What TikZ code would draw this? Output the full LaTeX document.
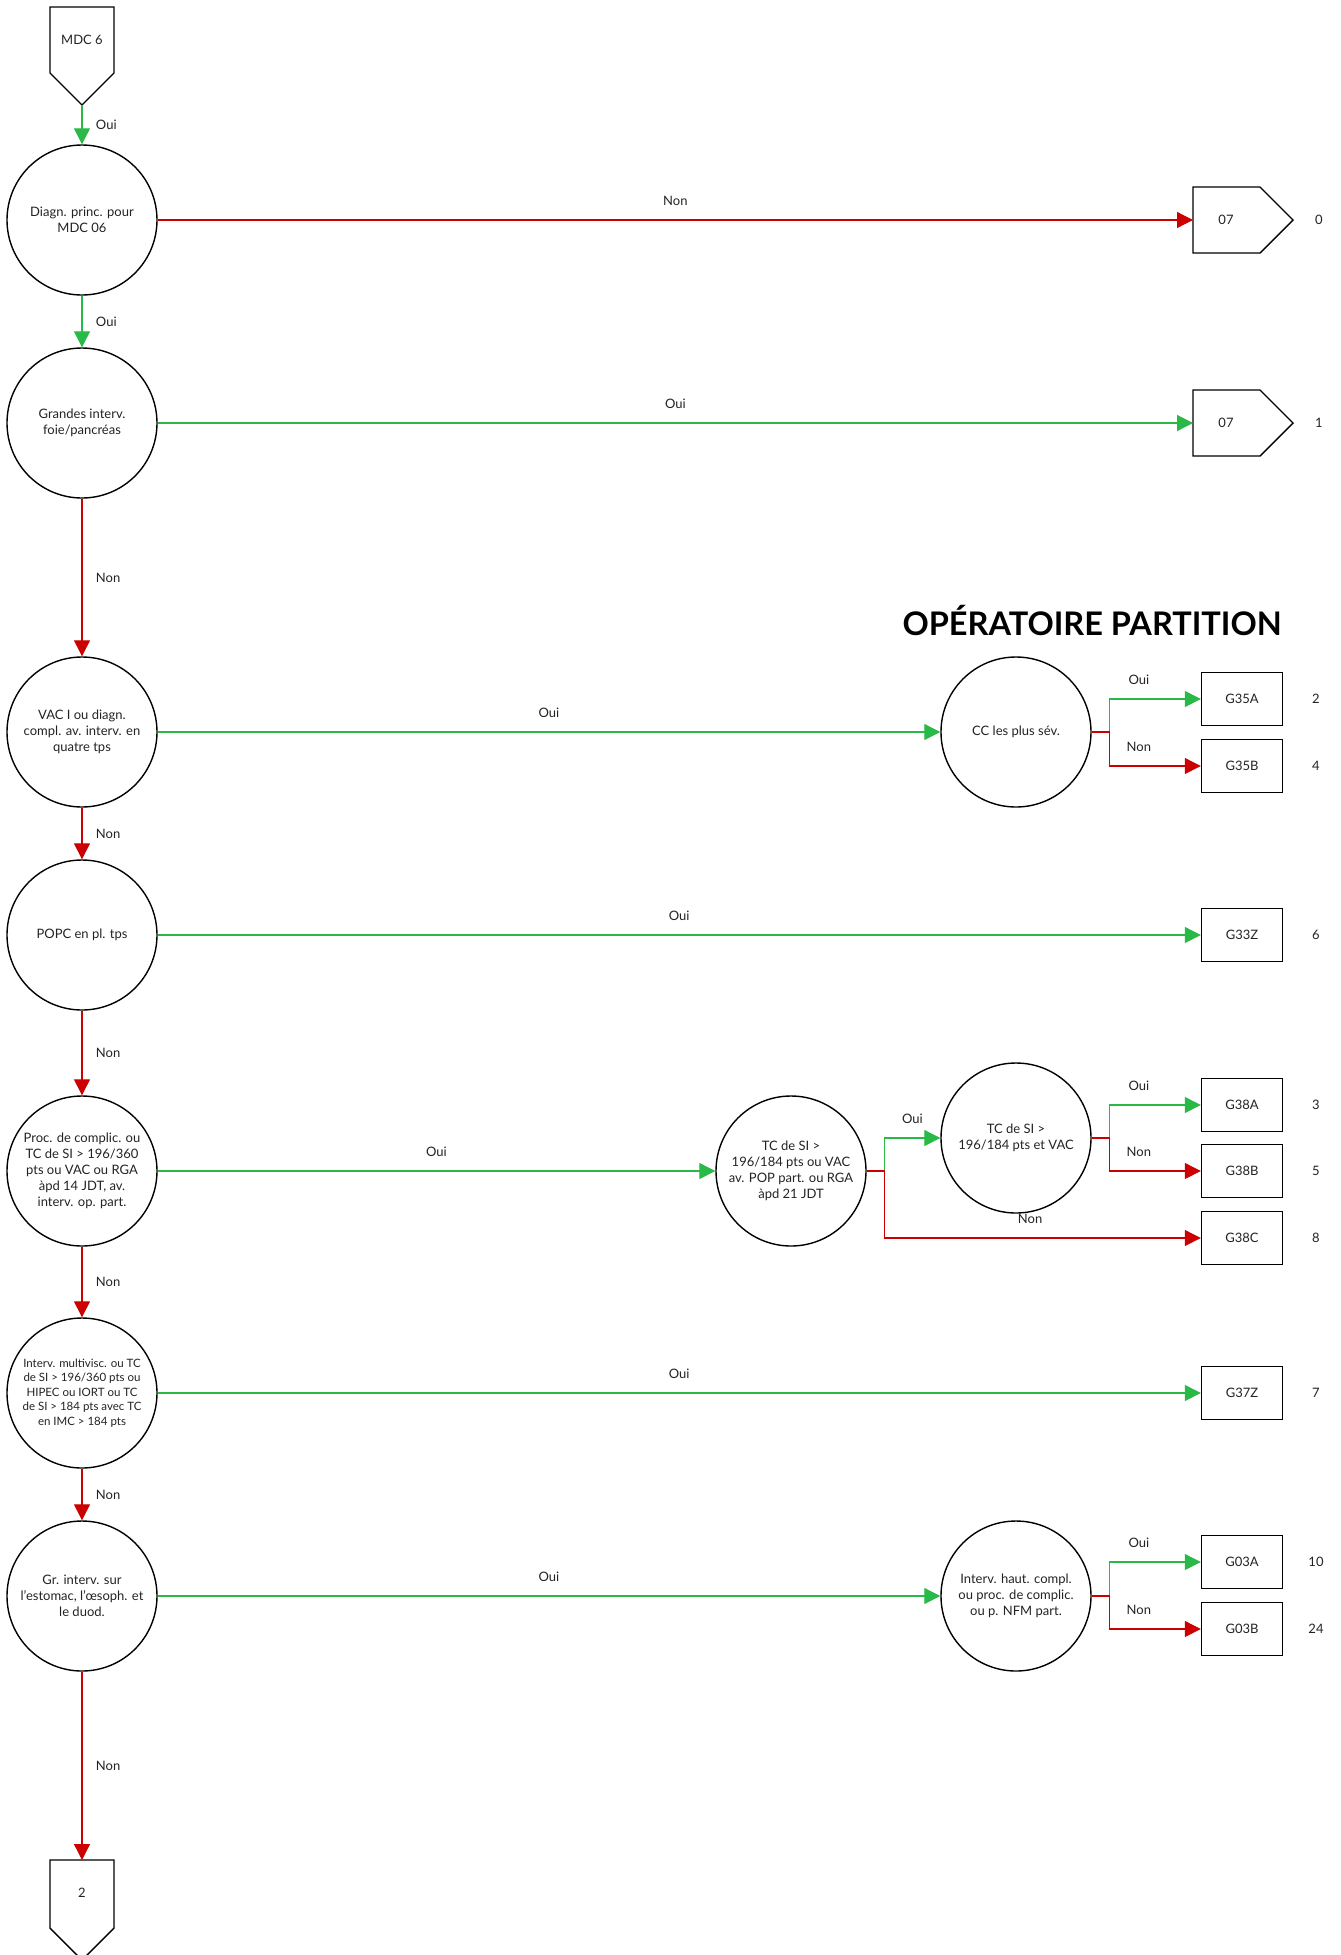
\documentclass[tikz,border=0pt]{standalone}
\usepackage{fontspec}
\setmainfont{Lato}
\usetikzlibrary{arrows.meta}
\definecolor{ouigreen}{RGB}{40,185,70}
\definecolor{nonred}{RGB}{204,0,0}
\definecolor{txtgrey}{RGB}{35,35,35}
\begin{document}
\begin{tikzpicture}[x=1pt,y=-1pt,
	every node/.style={text=txtgrey,font=\fontsize{13}{16}\selectfont},
	test/.style={circle,draw=black,line width=1.4pt,minimum size=150pt,inner sep=0pt,align=center},
	gbox/.style={draw=black,line width=1.4pt,minimum width=81pt,minimum height=53pt,inner sep=0pt},
	shp/.style={draw=black,line width=1.4pt},
	oui/.style={draw=ouigreen,line width=1.2pt,-{Triangle[length=16pt,width=16pt]}},
	non/.style={draw=nonred,line width=1.2pt,-{Triangle[length=16pt,width=16pt]}},
	vlbl/.style={right=10pt,midway},
	hlbl/.style={above=10pt,midway}]
	\useasboundingbox (0,0) rectangle (1341,1955);
	% entry and exit shapes
	\draw[shp] (50,7) -- (114,7) -- (114,73) -- (82,105) -- (50,73) -- cycle;
	\node (mdc) at (82,40) {MDC 6};
	\coordinate (mdcpt) at (82,105);
	\draw[shp] (50,1860) -- (114,1860) -- (114,1928) -- (82,1960) -- (50,1928) -- cycle;
	\node (fin) at (82,1893) {2};
	\coordinate (end2) at (82,1860);
	\foreach \nm/\y/\num in {e07a/220/0, e07b/423/1}{
		\draw[shp] (1193,\y-33) -- (1260,\y-33) -- (1293,\y) -- (1260,\y+33) -- (1193,\y+33) -- cycle;
		\node (\nm txt) at (1226,\y) {07};
		\coordinate (\nm) at (1193,\y);
		\node (\nm num) at (1319,\y) {\num};
	}
	% decisions
	\node[test] (c1) at (82,220) {Diagn. princ. pour\\MDC 06};
	\node[test] (c2) at (82,423) {Grandes interv.\\foie/pancréas};
	\node[test] (c3) at (82,732) {VAC I ou diagn.\\compl. av. interv. en\\quatre tps};
	\node[test] (c4) at (82,935) {POPC en pl. tps};
	\node[test] (c5) at (82,1171) {Proc. de complic. ou\\TC de SI > 196/360\\pts ou VAC ou RGA\\àpd 14 JDT, av.\\interv. op. part.};
	\node[test,font=\fontsize{11.5}{14.5}\selectfont] (c6) at (82,1393) {Interv. multivisc. ou TC\\de SI > 196/360 pts ou\\HIPEC ou IORT ou TC\\de SI > 184 pts avec TC\\en IMC > 184 pts};
	\node[test] (c7) at (82,1596) {Gr. interv. sur\\l’estomac, l’œsoph. et\\le duod.};
	\node[test] (cc) at (1016,732) {CC les plus sév.};
	\node[test] (tc1) at (791,1171) {TC de SI >\\196/184 pts ou VAC\\av. POP part. ou RGA\\àpd 21 JDT};
	\node[test] (tc2) at (1016,1138) {TC de SI >\\196/184 pts et VAC};
	\node[test] (haut) at (1016,1596) {Interv. haut. compl.\\ou proc. de complic.\\ou p. NFM part.};
	% groups
	\foreach \nm/\txt/\y/\num in {g35a/G35A/699/2, g35b/G35B/766/4, g33z/G33Z/935/6, g38a/G38A/1105/3, g38b/G38B/1171/5, g38c/G38C/1238/8, g37z/G37Z/1393/7, g03a/G03A/1562/10, g03b/G03B/1629/24}{
		\node[gbox] (\nm) at (1242,\y) {\txt};
		\node (\nm num) at (1316,\y) {\num};
	}
	\node[anchor=east,inner sep=0pt,text=black,font=\fontsize{32.5}{40}\selectfont\bfseries] (title) at (1282,620) {OPÉRATOIRE PARTITION};
	% connectors
	\draw[oui] (mdcpt) -- (c1) node[vlbl] {Oui};
	\draw[non] (c1) -- (e07a) node[hlbl] {Non};
	\draw[oui] (c1) -- (c2) node[vlbl] {Oui};
	\draw[oui] (c2) -- (e07b) node[hlbl] {Oui};
	\draw[non] (c2) -- (c3) node[vlbl] {Non};
	\draw[oui] (c3) -- (cc) node[hlbl] {Oui};
	\draw[oui] (cc.east) -- ++(18,0) |- (g35a.west) node[hlbl,pos=0.66] {Oui};
	\draw[non] (cc.east) -- ++(18,0) |- (g35b.west) node[hlbl,pos=0.66] {Non};
	\draw[non] (c3) -- (c4) node[vlbl] {Non};
	\draw[oui] (c4) -- (g33z) node[hlbl] {Oui};
	\draw[non] (c4) -- (c5) node[vlbl] {Non};
	\draw[oui] (c5) -- (tc1) node[hlbl] {Oui};
	\draw[oui] (tc1.east) -- ++(18,0) |- (tc2.west) node[hlbl,pos=0.75] {Oui};
	\draw[non] (tc1.east) -- ++(18,0) |- (g38c.west) node[hlbl,pos=0.73] {Non};
	\draw[oui] (tc2.east) -- ++(18,0) |- (g38a.west) node[hlbl,pos=0.66] {Oui};
	\draw[non] (tc2.east) -- ++(18,0) |- (g38b.west) node[hlbl,pos=0.66] {Non};
	\draw[non] (c5) -- (c6) node[vlbl] {Non};
	\draw[oui] (c6) -- (g37z) node[hlbl] {Oui};
	\draw[non] (c6) -- (c7) node[vlbl] {Non};
	\draw[oui] (c7) -- (haut) node[hlbl] {Oui};
	\draw[oui] (haut.east) -- ++(18,0) |- (g03a.west) node[hlbl,pos=0.66] {Oui};
	\draw[non] (haut.east) -- ++(18,0) |- (g03b.west) node[hlbl,pos=0.66] {Non};
	\draw[non] (c7) -- (end2) node[vlbl] {Non};
\end{tikzpicture}
\end{document}
